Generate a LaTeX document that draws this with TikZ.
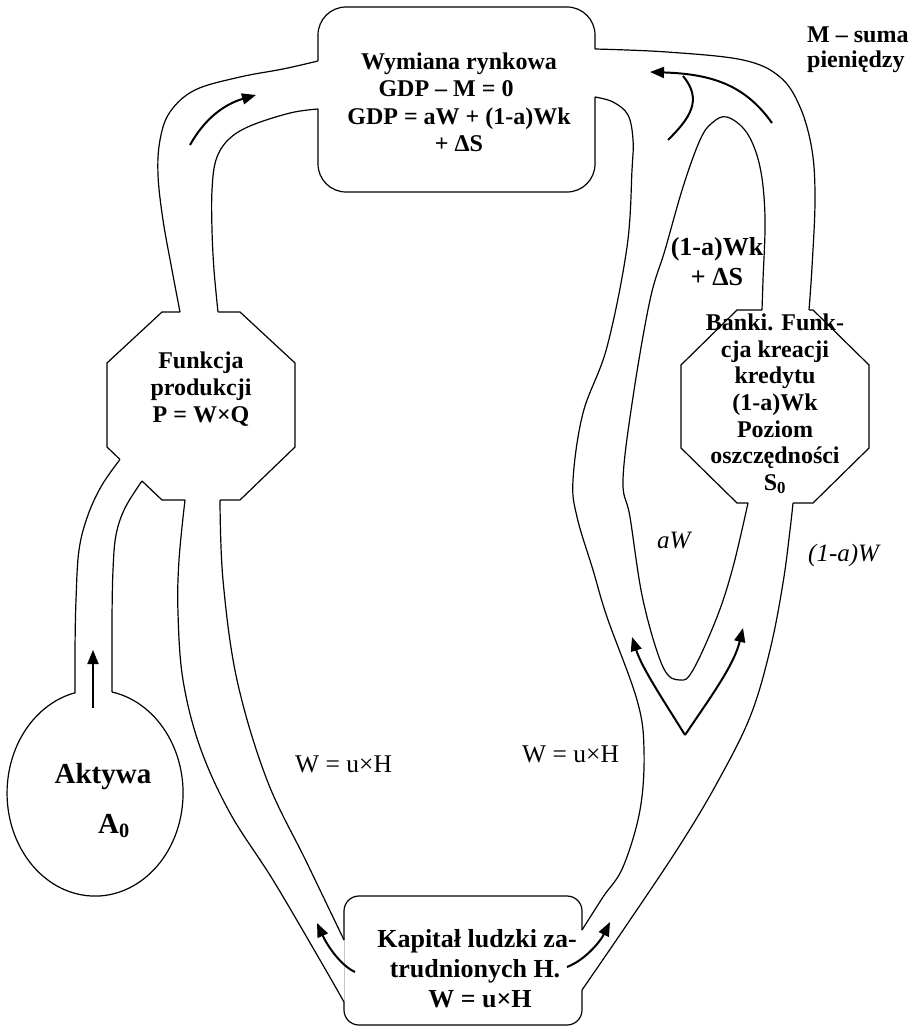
\documentclass[tikz,border=0pt]{standalone}
\usepackage{fontspec}
\setmainfont{Liberation Serif}
\usetikzlibrary{arrows.meta}
\begin{document}
\begin{tikzpicture}[x=1pt,y=-1pt,
  outline/.style={line width=1.2pt, line join=miter},
  pipe/.style={line width=1.2pt},
  flow/.style={line width=2pt, -{Triangle[length=14pt,width=11pt]}},
  flowline/.style={line width=2pt},
  bt/.style={font=\fontsize{24}{27}\selectfont\bfseries, anchor=base, inner sep=0pt},
  bbt/.style={font=\fontsize{26}{30}\selectfont\bfseries, anchor=base, inner sep=0pt},
  rt/.style={font=\fontsize{25.5}{30}\selectfont, anchor=base west, inner sep=0pt},
  it/.style={font=\fontsize{25}{30}\selectfont\itshape, anchor=base west, inner sep=0pt}
]
\useasboundingbox (0,0) rectangle (912,1027);

% ---------- top box: Wymiana rynkowa ----------
\draw[outline, rounded corners=28pt] (318,61) -- (318,7) -- (595,7) -- (595,49);
\draw[outline, rounded corners=28pt] (595,97) -- (595,192) -- (318,192) -- (318,109);
\node[bt] (wym1) at (459,70) {Wymiana rynkowa};
\node[bt] (wym2) at (446,97) {GDP – M = 0};
\node[bt] (wym3) at (459,125) {GDP = aW + (1-a)Wk};
\node[bt] (wym4) at (459,152) {+ ΔS};

% ---------- bottom box: Kapital ludzki ----------
\draw[outline, rounded corners=15pt] (344,940) -- (344,896) -- (582,896) -- (582,930);
\draw[outline, rounded corners=15pt] (582,990) -- (582,1025) -- (344,1025) -- (344,1002);
\draw[gray!45, line width=0.5pt] (344,940) -- (344,1002);
\node[bbt] (kap1) at (477,947) {Kapitał ludzki za-};
\node[bbt] (kap2) at (475,977) {trudnionych H.};
\node[bbt] (kap3) at (480,1007) {W = u×H};

% ---------- octagon: Funkcja produkcji ----------
\draw[outline] (180,312) -- (162,312) -- (107,363) -- (107,447) -- (120,459.5);
\draw[outline] (142,481) -- (162,500) -- (185,500);
\draw[outline] (220,500) -- (240,500) -- (295,447) -- (295,363) -- (240,312) -- (218,312);
\node[bt] (fun1) at (201,368) {Funkcja};
\node[bt] (fun2) at (201,395) {produkcji};
\node[bt] (fun3) at (201,422) {P = W×Q};

% ---------- octagon: Banki ----------
\draw[outline] (762,310) -- (737,310) -- (681,365) -- (681,448) -- (737,503) -- (748,503);
\draw[outline] (793,503) -- (813,503) -- (869,448) -- (869,365) -- (813,310) -- (809,310);
\node[bt] (bank1) at (775,330) {Banki. Funk-};
\node[bt] (bank2) at (775,357) {cja kreacji};
\node[bt] (bank3) at (775,383) {kredytu};
\node[bt] (bank4) at (775,410) {(1-a)Wk};
\node[bt] (bank5) at (775,437) {Poziom};
\node[bt] (bank6) at (775,463) {oszczędności};
\node[bt] (bank7) at (775,490) {S\textsubscript{0}};

% ---------- ellipse: Aktywa ----------
\draw[outline] (112,692) arc[start angle=-78.9, end angle=256.9, x radius=88, y radius=103];
\node[font=\fontsize{29}{34}\selectfont\bfseries, anchor=base, inner sep=0pt] (akt1) at (103,783) {Aktywa};
\node[font=\fontsize{29}{34}\selectfont\bfseries, anchor=base west, inner sep=0pt] (akt2) at (98,833) {A\textsubscript{0}};

% ---------- pipes ----------
% left top pipe
\draw[pipe] plot[smooth, tension=0.6] coordinates {(180,312) (172,270) (163,220) (158,175) (160,140) (170,112) (195,90) (240,77) (283,69) (318,61)};
\draw[pipe] plot[smooth, tension=0.6] coordinates {(218,312) (214,270) (212,230) (212,190) (216,160) (228,140) (250,126) (290,113) (318,109)};
% Aktywa pipe
\draw[pipe] plot[smooth, tension=0.6] coordinates {(120,459.5) (102,485) (88,515) (79,550) (76,600) (75,650) (75,693)};
\draw[pipe] plot[smooth, tension=0.6] coordinates {(142,481) (125,508) (116,535) (113,570) (112,620) (112,692)};
% bottom left pipe
\draw[pipe] plot[smooth, tension=0.6] coordinates {(185,500) (179,560) (178,613) (183,680) (200,747) (230,813) (273,880) (320,960) (344,1002)};
\draw[pipe] plot[smooth, tension=0.6] coordinates {(220,500) (223,580) (237,680) (267,780) (307,863) (344,940)};
% right big channel, inner left line
\draw[pipe] plot[smooth, tension=0.6] coordinates {(595,97) (613,102) (628,115) (633,140) (632,170) (627,247) (607,347) (583,413) (573,480) (577,517) (593,570) (607,617) (637,700) (644,750) (640,810) (623,867) (603,897) (582,930)};
% loop around bank
\draw[pipe] plot[smooth, tension=0.6] coordinates {(762,310) (763,280) (765,217) (760,167) (747,133) (727,117) (712,123) (700,140) (683,187) (665,250) (650,300) (633,397) (623,480) (630,517) (643,600) (663,667) (680,680) (693,670) (717,617) (733,567) (748,503)};
% outer right line
\draw[pipe] plot[smooth, tension=0.6] coordinates {(595,49) (667,52) (743,60) (780,77) (800,107) (812,150) (815,200) (812,267) (809,310)};
\draw[pipe] plot[smooth, tension=0.6] coordinates {(793,503) (790,530) (783,583) (770,650) (750,717) (717,783) (680,845) (630,920) (582,990)};

% ---------- flow arrows ----------
\draw[flow] (190,145) .. controls (205,118) and (225,104) .. (256,95);
\draw[flow] (772,123) .. controls (745,85) and (712,74) .. (650,72);
\draw[flowline] (668,140) .. controls (690,118) and (703,100) .. (683,76);
\draw[flow] (685,735) .. controls (662,698) and (642,668) .. (632,637);
\draw[flow] (685,735) .. controls (712,695) and (734,665) .. (743,628);
\draw[flow] (93,708) -- (93,650);
\draw[flow] (355,972) .. controls (340,965) and (327,945) .. (317,923);
\draw[flow] (567,967) .. controls (585,960) and (600,942) .. (610,922);

% ---------- labels ----------
\node[bt, anchor=base west] (msum1) at (807,43) {M – suma};
\node[bt, anchor=base west] (msum2) at (807,68) {pieniędzy};
\node[font=\fontsize{26}{30}\selectfont\bfseries, anchor=base, inner sep=0pt] (lab1) at (717,255) {(1-a)Wk};
\node[font=\fontsize{26}{30}\selectfont\bfseries, anchor=base, inner sep=0pt] (lab2) at (717,285) {+ ΔS};
\node[it] (aw) at (657,548) {aW};
\node[it] (law) at (808,561) {(1-a)W};
\node[rt] (wuh1) at (295,772) {W = u×H};
\node[rt] (wuh2) at (522,762) {W = u×H};
\end{tikzpicture}
\end{document}
